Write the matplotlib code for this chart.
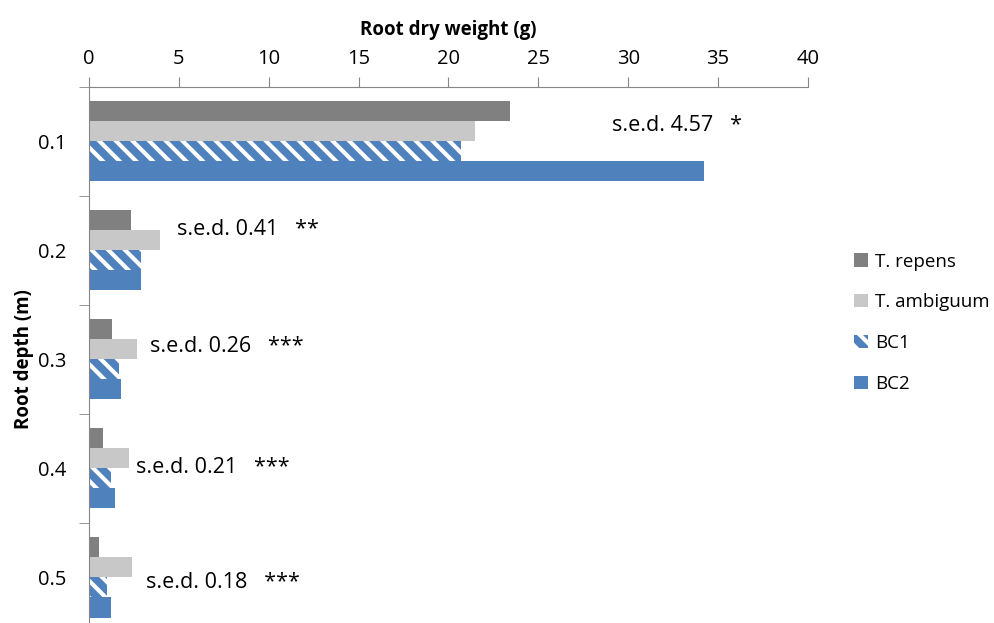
import numpy as np
import matplotlib
matplotlib.use('Agg')
import matplotlib.pyplot as plt

plt.rcParams['font.family'] = ['Open Sans', 'DejaVu Sans']
plt.rcParams['hatch.linewidth'] = 5.5

# data
depths = ['0.1', '0.2', '0.3', '0.4', '0.5']
t_repens = [23.4, 2.33, 1.26, 0.80, 0.57]
t_ambiguum = [21.5, 3.94, 2.65, 2.24, 2.37]
bc1 = [20.7, 2.90, 1.67, 1.20, 0.98]
bc2 = [34.2, 2.90, 1.78, 1.44, 1.22]
sed_labels = ['s.e.d. 4.57   *', 's.e.d. 0.41   **', 's.e.d. 0.26   ***',
              's.e.d. 0.21   ***', 's.e.d. 0.18   ***']

# where the s.e.d. labels sit (data coords)
sed_x = [29.1, 4.9, 3.4, 2.6, 3.2]
sed_y = [-0.15, 0.81, 1.88, 2.99, 4.05]

dark = '#808080'
light = '#c8c8c8'
blue = '#4f81bd'
axis_col = '#868686'

fig = plt.figure(figsize=(9.95, 6.23), dpi=100)
ax = fig.add_axes([0.0894, -0.01445, 0.7226, 0.8749])

y = np.arange(len(depths))
h = 0.1835
ax.barh(y - 1.5 * h, t_repens, height=h, color=dark, label='T. repens')
ax.barh(y - 0.5 * h, t_ambiguum, height=h, color=light, label='T. ambiguum')
ax.barh(y + 0.5 * h, bc1, height=h, color='white', edgecolor=blue,
        hatch='\\\\', linewidth=0, label='BC1')
ax.barh(y + 1.5 * h, bc2, height=h, color=blue, label='BC2')

for lab, tx, ty in zip(sed_labels, sed_x, sed_y):
    ax.text(tx, ty, lab, fontsize=15.5, va='center', ha='left')

ax.set_xlim(0, 40)
ax.set_ylim(len(depths) - 0.5, -0.5)

ax.xaxis.set_ticks_position('top')
ax.xaxis.set_label_position('top')
ax.set_xticks(np.arange(0, 41, 5))
ax.tick_params(axis='x', direction='out', length=7, color=axis_col,
               labelsize=14.5, pad=6)
ax.set_xlabel('Root dry weight (g)', fontsize=13.5, fontweight='bold', labelpad=10)

ax.set_yticks(y)
ax.set_yticklabels(depths)
ax.set_yticks(np.arange(-0.5, len(depths), 1), minor=True)
ax.tick_params(axis='y', which='major', length=0, labelsize=14.5, pad=16)
ax.tick_params(axis='y', which='minor', length=7, color=axis_col)
ax.set_ylabel('Root depth (m)', fontsize=13.5, fontweight='bold')
ax.yaxis.set_label_coords(-0.0765, 0.5)

for s in ['right', 'bottom']:
    ax.spines[s].set_visible(False)
for s in ['top', 'left']:
    ax.spines[s].set_color(axis_col)

fig.legend(loc='upper left', bbox_to_anchor=(847 / 995, 1 - 245 / 623),
           frameon=False, fontsize=13.5, handlelength=0.7, handleheight=0.7,
           handletextpad=0.4, labelspacing=1.22, borderaxespad=0)

fig.savefig('out.png', dpi=100)
